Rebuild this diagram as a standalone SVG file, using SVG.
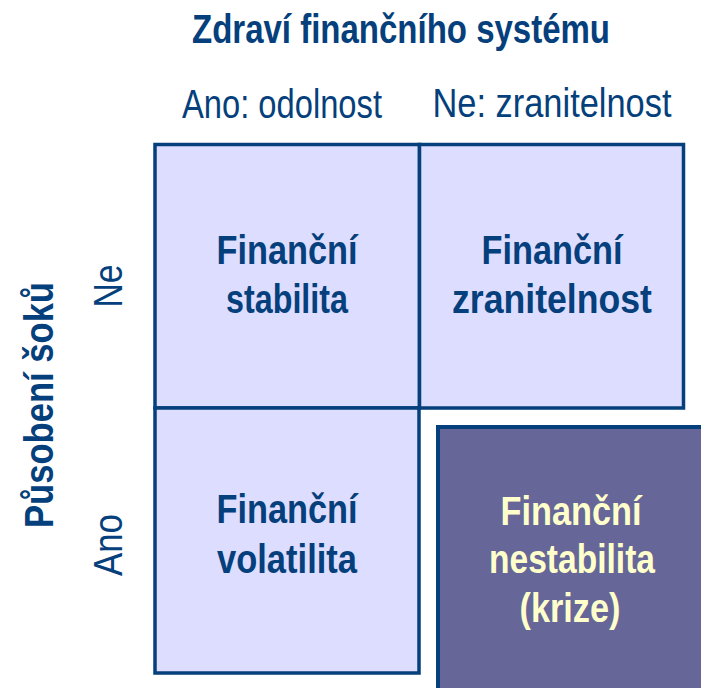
<svg xmlns="http://www.w3.org/2000/svg" width="701" height="688" viewBox="0 0 701 688">
<style>
.t{font-family:"Liberation Sans Narrow","Arial Narrow","Liberation Sans",sans-serif;font-size:40px;fill:#053F7C;text-anchor:middle}
.b{font-weight:bold}
.box{fill:#DDDDFF;stroke:#053F7C;stroke-width:3.5}
.dark{fill:#666699;stroke:#053F7C;stroke-width:4}
.y{fill:#FFFFCC}
</style>
<rect width="701" height="688" fill="#FFFFFF"/>
<g id="headers">
<text class="t b" x="401" y="43" textLength="418" lengthAdjust="spacingAndGlyphs">Zdraví finančního systému</text>
<text class="t" x="282" y="118" textLength="200" lengthAdjust="spacingAndGlyphs">Ano: odolnost</text>
<text class="t" x="552" y="117" textLength="239" lengthAdjust="spacingAndGlyphs">Ne: zranitelnost</text>
<text class="t b" transform="translate(53,405) rotate(-90)" textLength="246" lengthAdjust="spacingAndGlyphs">Působení šoků</text>
<text class="t" transform="translate(122,286) rotate(-90)" textLength="43" lengthAdjust="spacingAndGlyphs">Ne</text>
<text class="t" transform="translate(122,545) rotate(-90)" textLength="62" lengthAdjust="spacingAndGlyphs">Ano</text>
</g>
<g id="stabilita">
<rect class="box" x="155" y="144.5" width="264.5" height="263.5"/>
<text class="t b" x="287" y="264" textLength="141" lengthAdjust="spacingAndGlyphs">Finanční</text>
<text class="t b" x="287" y="313" textLength="122" lengthAdjust="spacingAndGlyphs">stabilita</text>
</g>
<g id="zranitelnost">
<rect class="box" x="419.5" y="144.5" width="264" height="263.5"/>
<text class="t b" x="552" y="264" textLength="141" lengthAdjust="spacingAndGlyphs">Finanční</text>
<text class="t b" x="552" y="313" textLength="200" lengthAdjust="spacingAndGlyphs">zranitelnost</text>
</g>
<g id="volatilita">
<rect class="box" x="155" y="408" width="264" height="265"/>
<text class="t b" x="287" y="523" textLength="141" lengthAdjust="spacingAndGlyphs">Finanční</text>
<text class="t b" x="287" y="573" textLength="140" lengthAdjust="spacingAndGlyphs">volatilita</text>
</g>
<g id="nestabilita">
<rect class="dark" x="438" y="427" width="280" height="280"/>
<text class="t b y" x="571" y="525" textLength="141" lengthAdjust="spacingAndGlyphs">Finanční</text>
<text class="t b y" x="572" y="573" textLength="166" lengthAdjust="spacingAndGlyphs">nestabilita</text>
<text class="t b y" x="570" y="622" textLength="101" lengthAdjust="spacingAndGlyphs">(krize)</text>
</g>
<g id="connectors"/>
</svg>
